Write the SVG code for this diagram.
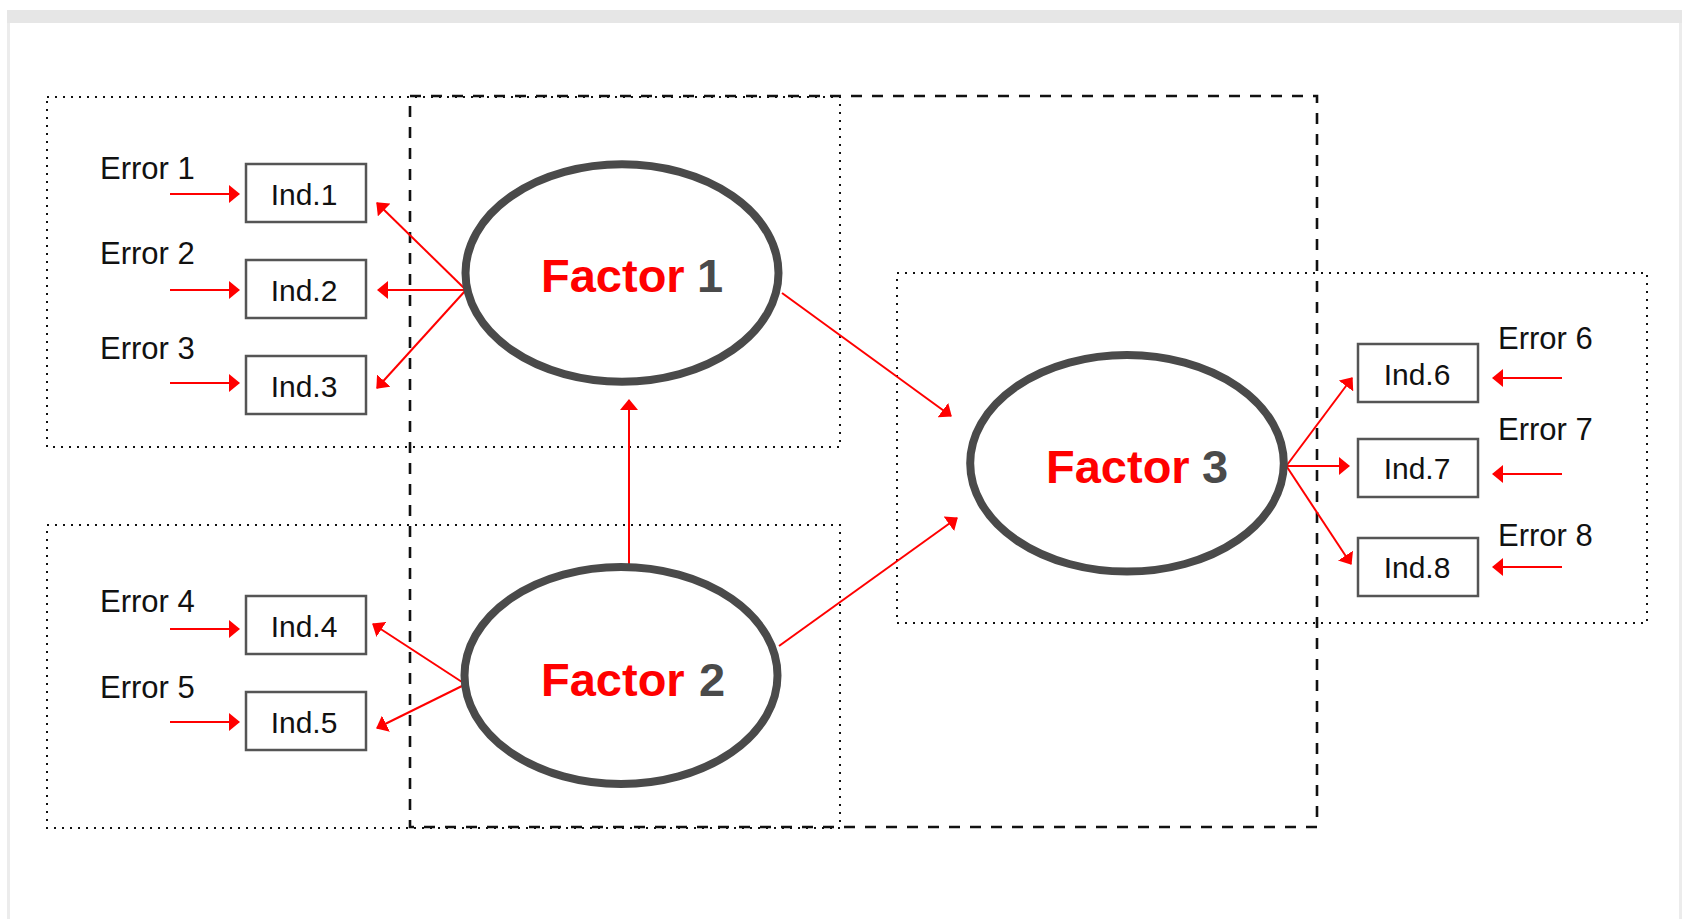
<svg xmlns="http://www.w3.org/2000/svg" width="1682" height="919" viewBox="0 0 1682 919">
<style>
.lbl{font-family:"Liberation Sans",Arial,sans-serif;font-size:31px;fill:#111}
.ind{font-family:"Liberation Sans",Arial,sans-serif;font-size:30px;fill:#111;text-anchor:middle}
.fac{font-family:"Liberation Sans",Arial,sans-serif;font-size:47px;font-weight:bold}
.red{fill:#ff0000}
.num{fill:#4a4a4a}
.box{fill:#fff;stroke:#555;stroke-width:2.5}
.ell{fill:#fff;stroke:#4a4a4a;stroke-width:8}
.dot{fill:none;stroke:#111;stroke-width:2;stroke-dasharray:2 6}
.dash{fill:none;stroke:#111;stroke-width:2.6;stroke-dasharray:11 10}
.con line{stroke:#ff0000;stroke-width:2;marker-end:url(#ah)}
</style>
<defs>
<marker id="ah" markerUnits="userSpaceOnUse" markerWidth="12" markerHeight="18" refX="10" refY="9" orient="auto">
<path d="M0,0 L11,9 L0,18 Z" fill="#ff0000"/>
</marker>
</defs>
<rect x="0" y="0" width="1682" height="919" fill="#fff"/>
<g id="frame">
<rect x="7" y="10" width="1675" height="13" fill="#e6e6e6"/>
<rect x="7" y="23" width="3" height="896" fill="#ececec"/>
<rect x="1679" y="23" width="3" height="896" fill="#ececec"/>
</g>
<g id="groups">
<rect class="dot" x="47" y="97" width="793" height="350"/>
<rect class="dot" x="47" y="525" width="793" height="303"/>
<rect class="dot" x="897" y="273" width="750" height="350"/>
<rect class="dash" x="410" y="96" width="907" height="731"/>
</g>
<g id="connectors" class="con">
<line x1="170" y1="194" x2="239" y2="194"/>
<line x1="170" y1="290" x2="239" y2="290"/>
<line x1="170" y1="383" x2="239" y2="383"/>
<line x1="170" y1="629" x2="239" y2="629"/>
<line x1="170" y1="722" x2="239" y2="722"/>
<line x1="465" y1="289" x2="377" y2="203"/>
<line x1="465" y1="290" x2="378" y2="290"/>
<line x1="465" y1="291" x2="377" y2="388"/>
<line x1="462" y1="682" x2="373" y2="624"/>
<line x1="462" y1="686" x2="377" y2="728"/>
<line x1="629" y1="565" x2="629" y2="400"/>
<line x1="782" y1="293" x2="951" y2="416"/>
<line x1="779" y1="646" x2="957" y2="518"/>
<line x1="1287" y1="465" x2="1352" y2="378"/>
<line x1="1287" y1="466" x2="1349" y2="466"/>
<line x1="1287" y1="467" x2="1351" y2="564"/>
<line x1="1562" y1="378" x2="1493" y2="378"/>
<line x1="1562" y1="474" x2="1493" y2="474"/>
<line x1="1562" y1="567" x2="1493" y2="567"/>
</g>
<g id="error1"><text class="lbl" x="100" y="179">Error 1</text></g>
<g id="error2"><text class="lbl" x="100" y="264">Error 2</text></g>
<g id="error3"><text class="lbl" x="100" y="359">Error 3</text></g>
<g id="error4"><text class="lbl" x="100" y="612">Error 4</text></g>
<g id="error5"><text class="lbl" x="100" y="698">Error 5</text></g>
<g id="error6"><text class="lbl" x="1498" y="349">Error 6</text></g>
<g id="error7"><text class="lbl" x="1498" y="440">Error 7</text></g>
<g id="error8"><text class="lbl" x="1498" y="546">Error 8</text></g>
<g id="ind1"><rect class="box" x="246" y="164" width="120" height="58"/><text class="ind" x="304" y="205">Ind.1</text></g>
<g id="ind2"><rect class="box" x="246" y="260" width="120" height="58"/><text class="ind" x="304" y="301">Ind.2</text></g>
<g id="ind3"><rect class="box" x="246" y="356" width="120" height="58"/><text class="ind" x="304" y="397">Ind.3</text></g>
<g id="ind4"><rect class="box" x="246" y="596" width="120" height="58"/><text class="ind" x="304" y="637">Ind.4</text></g>
<g id="ind5"><rect class="box" x="246" y="692" width="120" height="58"/><text class="ind" x="304" y="733">Ind.5</text></g>
<g id="ind6"><rect class="box" x="1358" y="344" width="120" height="58"/><text class="ind" x="1417" y="385">Ind.6</text></g>
<g id="ind7"><rect class="box" x="1358" y="439" width="120" height="58"/><text class="ind" x="1417" y="479">Ind.7</text></g>
<g id="ind8"><rect class="box" x="1358" y="538" width="120" height="58"/><text class="ind" x="1417" y="578">Ind.8</text></g>
<g id="factor1"><ellipse class="ell" cx="622" cy="273" rx="156.5" ry="108.7"/><text class="fac red" x="541" y="292">Factor</text><text class="fac num" x="697" y="292">1</text></g>
<g id="factor2"><ellipse class="ell" cx="621" cy="675.5" rx="156.5" ry="108.5"/><text class="fac red" x="541" y="696">Factor</text><text class="fac num" x="699" y="696">2</text></g>
<g id="factor3"><ellipse class="ell" cx="1127" cy="463.3" rx="156.8" ry="108.3"/><text class="fac red" x="1046" y="483">Factor</text><text class="fac num" x="1202" y="483">3</text></g>
</svg>
